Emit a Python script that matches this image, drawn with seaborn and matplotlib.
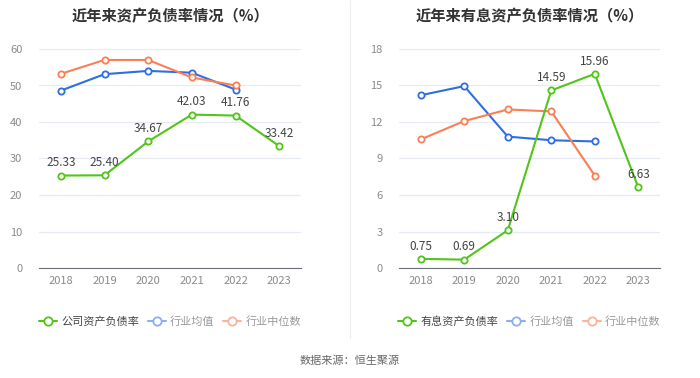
import numpy as np
import pandas as pd
import seaborn as sns
import matplotlib.pyplot as plt
from matplotlib.lines import Line2D

sns.set_style("white")
plt.rcParams['font.family'] = ['Noto Sans CJK SC', 'DejaVu Sans']

# data
years = ['2018', '2019', '2020', '2021', '2022', '2023']
debt_company = [25.33, 25.40, 34.67, 42.03, 41.76, 33.42]
debt_avg = [48.6, 53.1, 54.0, 53.5, 48.9]
debt_median = [53.2, 57.0, 57.0, 52.2, 50.0]

int_company = [0.75, 0.69, 3.10, 14.59, 15.96, 6.63]
int_avg = [14.2, 14.95, 10.8, 10.5, 10.4]
int_median = [10.57, 12.08, 13.03, 12.87, 7.6]

green = '#52c41a'
blue = '#2f6ee0'
orange = '#fa7f55'
blue_light = '#8fadf0'
orange_light = '#fbb49c'


def draw(ax, company, avg, median, yticks, title, company_name):
    for vals, color in [(avg, blue), (median, orange), (company, green)]:
        df = pd.DataFrame({'x': np.arange(len(vals)), 'y': vals})
        sns.lineplot(data=df, x='x', y='y', ax=ax, color=color, linewidth=1.5,
                     marker='o', markersize=4.5, markerfacecolor='white',
                     markeredgecolor=color, markeredgewidth=1.3, zorder=3)
    for i, v in enumerate(company):
        ax.annotate(f'{v:.2f}', (i, v), xytext=(0, 4.5), textcoords='offset points',
                    ha='center', va='bottom', fontsize=8.5, color='#444444', zorder=4)
    ax.set_xlim(-0.5, len(years) - 0.5)
    ax.set_ylim(yticks[0], yticks[-1])
    ax.set_yticks(yticks)
    ax.set_xticks(range(len(years)))
    ax.set_xticklabels(years)
    ax.set_xlabel('')
    ax.set_ylabel('')
    ax.grid(axis='y', color='#e6eaf2', linewidth=0.9)
    ax.set_axisbelow(True)
    for s in ['top', 'right', 'left']:
        ax.spines[s].set_visible(False)
    ax.spines['bottom'].set_color('#6e7079')
    ax.tick_params(axis='x', colors='#6e7079', labelcolor='#8a8a8a', labelsize=8,
                   length=3, width=0.8, direction='out', pad=3)
    ax.tick_params(axis='y', length=0, labelcolor='#8a8a8a', labelsize=8, pad=12)
    ax.set_title(title, fontsize=11, fontweight='bold', color='#333333', pad=20)
    handles = [
        Line2D([], [], color=green, marker='o', markerfacecolor='white', markeredgecolor=green,
               markersize=6, linewidth=1.5, markeredgewidth=1.3),
        Line2D([], [], color=blue_light, marker='o', markerfacecolor='white', markeredgecolor=blue_light,
               markersize=6, linewidth=1.5, markeredgewidth=1.3),
        Line2D([], [], color=orange_light, marker='o', markerfacecolor='white', markeredgecolor=orange_light,
               markersize=6, linewidth=1.5, markeredgewidth=1.3),
    ]
    leg = ax.legend(handles, [company_name, '行业均值', '行业中位数'], loc='upper center',
                    bbox_to_anchor=(0.5, -0.175), ncol=3, frameon=False, fontsize=8,
                    handlelength=1.6, handletextpad=0.4, columnspacing=0.8)
    texts = leg.get_texts()
    texts[0].set_color('#444444')
    texts[1].set_color('#999999')
    texts[2].set_color('#999999')


fig = plt.figure(figsize=(7, 3.78), dpi=100)
ax1 = fig.add_axes([39 / 700, 110 / 378, 262 / 700, 219 / 378])
ax2 = fig.add_axes([399 / 700, 110 / 378, 261 / 700, 219 / 378])

draw(ax1, debt_company, debt_avg, debt_median, [0, 10, 20, 30, 40, 50, 60],
     '近年来资产负债率情况（%）', '公司资产负债率')
draw(ax2, int_company, int_avg, int_median, [0, 3, 6, 9, 12, 15, 18],
     '近年来有息资产负债率情况（%）', '有息资产负债率')

fig.add_artist(Line2D([350 / 700, 350 / 700], [40 / 378, 1.0], color='#eeeeee', linewidth=0.8))
fig.text(0.5, 17 / 378, '数据来源：恒生聚源', ha='center', va='center', fontsize=8, color='#666666')

fig.savefig('out.png', dpi=100)
